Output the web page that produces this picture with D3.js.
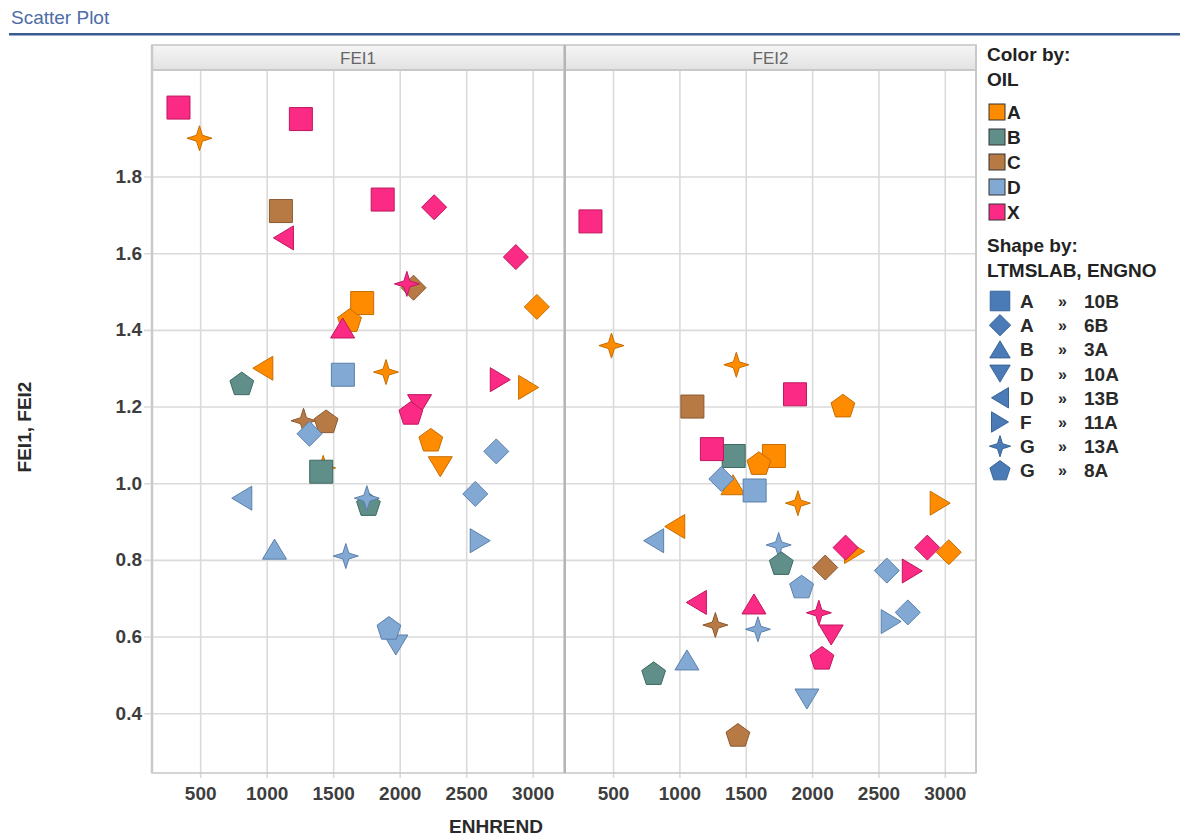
<!DOCTYPE html>
<html><head><meta charset="utf-8">
<script src="https://cdn.jsdelivr.net/npm/d3@7"></script>
<style>
body{margin:0;background:#fff;}
svg text{font-family:"Liberation Sans",Arial,sans-serif;}
</style></head>
<body><svg id="c" width="1180" height="839"></svg>
<script>
// ---- data ----
const panels = ["FEI1", "FEI2"];
const oilCats = ["A", "B", "C", "D", "X"];
const oilColors = ["#ff8c00", "#5f8f88", "#b87a45", "#82a8d4", "#fb2a84"];
const oilStrokes = ["#c66c00", "#3f6a64", "#8a5830", "#5b80ab", "#c0165e"];
const shapeKeys = ["10B", "6B", "3A", "10A", "13B", "11A", "13A", "8A"];
const shapeLabs = ["A", "A", "B", "D", "D", "F", "G", "G"];
const xTicks = [500, 1000, 1500, 2000, 2500, 3000];
const yTicks = [0.4, 0.6, 0.8, 1.0, 1.2, 1.4, 1.6, 1.8];

const fei1X = [337, 495, 1257, 1107, 1126, 1872, 2259, 2873, 2104, 2054, 1718, 3031, 1623, 1571, 971, 813, 1573, 1897, 2756, 2969, 2149, 2084, 1277, 1447, 1322, 2234, 2726, 2305, 1425, 1410, 813, 1765, 1753, 2568, 2605, 1059, 1595, 1971, 1919];
const fei1Y = [1.98, 1.90, 1.95, 1.71, 1.64, 1.74, 1.72, 1.59, 1.51, 1.52, 1.47, 1.46, 1.425, 1.405, 1.30, 1.26, 1.283, 1.29, 1.27, 1.25, 1.205, 1.183, 1.163, 1.161, 1.129, 1.113, 1.083, 1.043, 1.04, 1.03, 0.961, 0.945, 0.961, 0.972, 0.850, 0.828, 0.810, 0.578, 0.622];
const fei1Oil = ["X", "A", "X", "C", "X", "X", "X", "X", "C", "X", "A", "A", "A", "X", "A", "B", "D", "A", "X", "A", "X", "X", "C", "C", "D", "A", "D", "A", "A", "B", "D", "B", "D", "D", "D", "D", "D", "D", "D"];
const fei1Shape = ["10B", "13A", "10B", "10B", "13B", "10B", "6B", "6B", "6B", "13A", "10B", "6B", "8A", "3A", "13B", "8A", "10B", "13A", "11A", "11A", "10A", "8A", "13A", "8A", "6B", "8A", "6B", "10A", "13A", "10B", "13B", "8A", "13A", "6B", "11A", "3A", "13A", "10A", "8A"];

const fei2X = [330, 488, 1429, 1098, 1871, 2232, 1409, 1245, 1712, 1599, 1404, 1316, 1567, 1893, 2965, 965, 806, 1748, 1768, 2320, 2252, 2099, 2563, 2755, 2868, 3030, 1921, 1128, 1562, 1271, 1592, 2051, 2144, 2596, 2721, 2074, 806, 1057, 1961, 1441];
const fei2Y = [1.683, 1.359, 1.309, 1.200, 1.232, 1.202, 1.071, 1.089, 1.071, 1.052, 0.996, 1.011, 0.981, 0.948, 0.948, 0.887, 0.850, 0.839, 0.791, 0.822, 0.832, 0.780, 0.772, 0.771, 0.832, 0.820, 0.730, 0.689, 0.685, 0.630, 0.619, 0.662, 0.604, 0.639, 0.663, 0.544, 0.504, 0.539, 0.437, 0.343];
const fei2Oil = ["X", "A", "A", "C", "X", "A", "B", "X", "A", "A", "A", "D", "D", "A", "A", "A", "D", "D", "B", "A", "X", "C", "D", "X", "X", "A", "D", "X", "X", "C", "D", "X", "X", "D", "D", "X", "B", "D", "D", "C"];
const fei2Shape = ["10B", "13A", "13A", "10B", "10B", "8A", "10B", "10B", "10B", "8A", "3A", "6B", "10B", "13A", "11A", "13B", "13B", "13A", "8A", "11A", "6B", "6B", "6B", "11A", "6B", "6B", "8A", "13B", "3A", "13A", "13A", "13A", "10A", "11A", "6B", "8A", "8A", "3A", "10A", "8A"];

// ---- shapes ----
function shapePath(key, k) {
  const s = k || 1;
  const P = pts => "M" + pts.map(p => (p[0]*s).toFixed(2) + "," + (p[1]*s).toFixed(2)).join("L") + "Z";
  switch (key) {
    case "10B": return P([[-11.5,-11.5],[11.5,-11.5],[11.5,11.5],[-11.5,11.5]]);
    case "6B": return P([[0,-12.5],[12.5,0],[0,12.5],[-12.5,0]]);
    case "3A": return P([[0,-10],[12,10],[-12,10]]);
    case "10A": return P([[-12,-10],[12,-10],[0,10]]);
    case "13B": return P([[-10,0],[10,-12],[10,12]]);
    case "11A": return P([[10,0],[-10,-12],[-10,12]]);
    case "13A": {
      const pts = [];
      for (let i = 0; i < 8; i++) {
        const a = -Math.PI/2 + i*Math.PI/4;
        const r = i % 2 === 0 ? 12.5 : 4.2;
        pts.push([r*Math.cos(a), r*Math.sin(a)]);
      }
      return P(pts);
    }
    case "8A": {
      const pts = [];
      for (let i = 0; i < 5; i++) {
        const a = -Math.PI/2 + i*2*Math.PI/5;
        pts.push([12.5*Math.cos(a), 12.5*Math.sin(a) + 1]);
      }
      return P(pts);
    }
  }
}

const svg = d3.select("#c");
const color = d3.scaleOrdinal(oilCats, oilColors);
const stroke = d3.scaleOrdinal(oilCats, oilStrokes);

// title
svg.append("text").attr("x", 11).attr("y", 24).attr("font-size", 19).attr("fill", "#4d6ca6").text("Scatter Plot");
svg.append("rect").attr("x", 9).attr("y", 33).attr("width", 1171).attr("height", 2.5).attr("fill", "#3a5b92");

const plotTop = 70, plotBottom = 773;
const y = d3.scaleLinear().domain([0.244, 2.078]).range([plotBottom, plotTop]);
const panelX = [[152, 564], [565, 976]];

const datasets = [
  {X: fei1X, Y: fei1Y, O: fei1Oil, S: fei1Shape},
  {X: fei2X, Y: fei2Y, O: fei2Oil, S: fei2Shape}
];

panels.forEach((name, i) => {
  const [x0, x1] = panelX[i];
  const x = d3.scaleLinear().domain([138, 3235]).range([x0, x1]);
  const g = svg.append("g");
  // header
  const grad = svg.append("defs").append("linearGradient").attr("id", "hg" + i).attr("x1", 0).attr("y1", 0).attr("x2", 0).attr("y2", 1);
  grad.append("stop").attr("offset", "0%").attr("stop-color", "#f6f6f6");
  grad.append("stop").attr("offset", "100%").attr("stop-color", "#e2e2e2");
  g.append("rect").attr("x", x0).attr("y", 45).attr("width", x1 - x0).attr("height", plotTop - 45)
    .attr("fill", "url(#hg" + i + ")").attr("stroke", "#c4c4c4").attr("stroke-width", 1.5);
  g.append("text").attr("x", (x0 + x1) / 2).attr("y", 64).attr("text-anchor", "middle")
    .attr("font-size", 17).attr("fill", "#666").text(name);

  // x grid + axis
  const xa = g.append("g").attr("transform", `translate(0,${plotBottom})`)
    .call(d3.axisBottom(x).tickValues(xTicks).tickFormat(d3.format("d")).tickSize(-(plotBottom - plotTop)).tickPadding(14));
  xa.select(".domain").remove();
  xa.selectAll("line").attr("stroke", "#dadada").attr("stroke-width", 1.6).attr("y1", 5);
  xa.selectAll("text").attr("font-size", 19).attr("font-weight", "bold").attr("fill", "#3d3d3d")
    .attr("font-family", "'Liberation Sans',Arial,sans-serif");

  // y grid
  const ya = g.append("g").attr("transform", `translate(${x0},0)`)
    .call(d3.axisLeft(y).tickValues(yTicks).tickFormat(d3.format(".1f")).tickSize(-(x1 - x0)).tickPadding(10));
  ya.select(".domain").remove();
  ya.selectAll("line").attr("stroke", "#dadada").attr("stroke-width", 1.6).attr("x1", i === 0 ? -8 : 0);
  if (i === 0) {
    ya.selectAll("text").attr("font-size", 19).attr("font-weight", "bold").attr("fill", "#3d3d3d")
      .attr("font-family", "'Liberation Sans',Arial,sans-serif");
  } else {
    ya.selectAll("text").remove();
  }
  // frame
  g.append("rect").attr("x", x0).attr("y", plotTop).attr("width", x1 - x0).attr("height", plotBottom - plotTop)
    .attr("fill", "none").attr("stroke", "#c6c6c6").attr("stroke-width", 1.5);
  g.append("line").attr("x1", x0).attr("x2", x0).attr("y1", 45).attr("y2", plotBottom)
    .attr("stroke", i === 0 ? "#c9c9c9" : "#b5b5b5").attr("stroke-width", i === 0 ? 2.5 : 2);

  // points
  const ds = datasets[i];
  const idx = d3.range(ds.X.length);
  g.append("g").selectAll("path").data(idx).join("path")
    .attr("d", j => shapePath(ds.S[j]))
    .attr("transform", j => `translate(${x(ds.X[j])},${y(ds.Y[j])})`)
    .attr("fill", j => color(ds.O[j]))
    .attr("stroke", j => stroke(ds.O[j]))
    .attr("stroke-width", 1)
    .attr("stroke-linejoin", "round");
});
// right edge
svg.append("line").attr("x1", 976).attr("x2", 976).attr("y1", 45).attr("y2", plotBottom).attr("stroke", "#c6c6c6").attr("stroke-width", 1.5);

// axis titles
svg.append("text").attr("x", 496).attr("y", 833).attr("text-anchor", "middle").attr("font-size", 19)
  .attr("font-weight", "bold").attr("fill", "#2a2a2a").text("ENHREND");
svg.append("text").attr("transform", "translate(31,427) rotate(-90)").attr("text-anchor", "middle").attr("font-size", 19)
  .attr("font-weight", "bold").attr("fill", "#2a2a2a").text("FEI1, FEI2");

// legend
const lg = svg.append("g").attr("transform", "translate(987,0)");
lg.append("text").attr("x", 0).attr("y", 61).attr("font-size", 19).attr("font-weight", "bold").attr("fill", "#222").text("Color by:");
lg.append("text").attr("x", 0).attr("y", 86).attr("font-size", 19).attr("font-weight", "bold").attr("fill", "#222").text("OIL");
oilCats.forEach((c, k) => {
  const cy = 112 + k * 25;
  lg.append("rect").attr("x", 2).attr("y", cy - 8).attr("width", 16).attr("height", 16)
    .attr("fill", color(c)).attr("stroke", "#333").attr("stroke-width", 1);
  lg.append("text").attr("x", 20).attr("y", cy + 7).attr("font-size", 19).attr("font-weight", "bold").attr("fill", "#222").text(c);
});
lg.append("text").attr("x", 0).attr("y", 252).attr("font-size", 19).attr("font-weight", "bold").attr("fill", "#222").text("Shape by:");
lg.append("text").attr("x", 0).attr("y", 277).attr("font-size", 19).attr("font-weight", "bold").attr("fill", "#222").text("LTMSLAB, ENGNO");
shapeKeys.forEach((s, k) => {
  const cy = 301 + k * 24.2;
  lg.append("path").attr("d", shapePath(s, 0.85)).attr("transform", `translate(13,${cy})`)
    .attr("fill", "#4a7bb7").attr("stroke", "#3a6498").attr("stroke-width", 1);
  lg.append("text").attr("x", 33).attr("y", cy + 7).attr("font-size", 19).attr("font-weight", "bold").attr("fill", "#2a2a2a").text(shapeLabs[k]);
  lg.append("text").attr("x", 71).attr("y", cy + 6).attr("font-size", 16).attr("font-weight", "bold").attr("fill", "#2a2a2a").text("»");
  lg.append("text").attr("x", 97).attr("y", cy + 7).attr("font-size", 19).attr("font-weight", "bold").attr("fill", "#2a2a2a").text(s);
});
</script></body></html>
